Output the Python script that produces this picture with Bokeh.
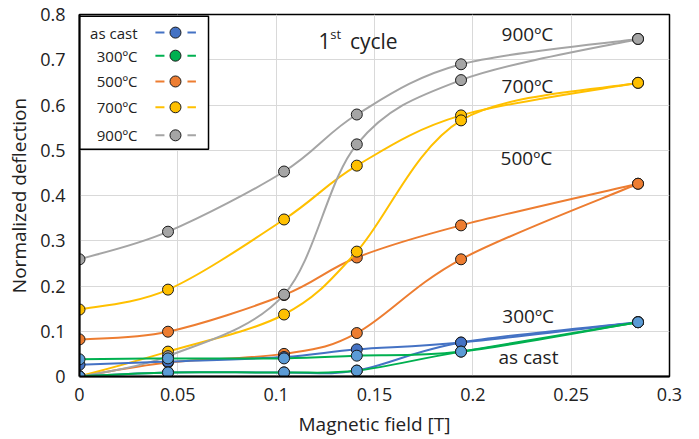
import numpy as np
from bokeh.plotting import figure
from bokeh.models import Range1d, FixedTicker, Label
from bokeh.embed import file_html
from bokeh.resources import INLINE

# ---------------- data ----------------
field = [0.0, 0.045, 0.104, 0.141, 0.194, 0.284]

x_ticks = [0.0, 0.05, 0.1, 0.15, 0.2, 0.25, 0.3]
x_tick_labels = ["0", "0.05", "0.1", "0.15", "0.2", "0.25", "0.3"]
y_ticks = [0.0, 0.1, 0.2, 0.3, 0.4, 0.5, 0.6, 0.7, 0.8]
y_tick_labels = ["0", "0.1", "0.2", "0.3", "0.4", "0.5", "0.6", "0.7", "0.8"]

series_names = ["as cast", "300ºC", "500ºC", "700ºC", "900ºC"]

ascast_a = [0.026, 0.033, 0.043, 0.060, 0.075, 0.120]
ascast_b = [0.000, 0.009, 0.009, 0.013, 0.075, 0.120]
t300_a = [0.038, 0.040, 0.040, 0.046, 0.055, 0.120]
t300_b = [0.000, 0.009, 0.009, 0.013, 0.055, 0.120]
t500_a = [0.082, 0.099, 0.180, 0.263, 0.334, 0.426]
t500_b = [0.000, 0.031, 0.050, 0.096, 0.259, 0.426]
t700_a = [0.148, 0.192, 0.347, 0.466, 0.577, 0.649]
t700_b = [0.000, 0.055, 0.137, 0.276, 0.566, 0.649]
t900_a = [0.259, 0.320, 0.453, 0.579, 0.690, 0.746]
t900_b = [0.000, 0.045, 0.181, 0.513, 0.655, 0.746]

annotation_texts = ["900ºC", "700ºC", "500ºC", "300ºC", "as cast"]

# ---------------- styles ----------------
FONT = "Open Sans"
TXT = "#222222"
line_colors = {"as cast": "#4472C4", "300ºC": "#00B050", "500ºC": "#ED7D31",
               "700ºC": "#FFC000", "900ºC": "#A5A5A5"}
marker_colors = {"as cast": "#4472C4", "300ºC": "#5B9BD5", "500ºC": "#ED7D31",
                 "700ºC": "#FFC000", "900ºC": "#A5A5A5"}
legend_marker_colors = {"as cast": "#4472C4", "300ºC": "#00B050", "500ºC": "#ED7D31",
                        "700ºC": "#FFC000", "900ºC": "#A5A5A5"}
branches = {"as cast": (ascast_a, ascast_b), "300ºC": (t300_a, t300_b),
            "500ºC": (t500_a, t500_b), "700ºC": (t700_a, t700_b),
            "900ºC": (t900_a, t900_b)}


def smooth_segments(xs, ys):
    """Catmull-Rom style Bezier control points (Excel-like smoothing)."""
    P = np.column_stack([xs, ys]).astype(float)
    E = np.vstack([P[0], P, P[-1]])
    out = {k: [] for k in ["x0", "y0", "x1", "y1", "cx0", "cy0", "cx1", "cy1"]}
    for i in range(len(P) - 1):
        p0, p1, p2, p3 = E[i], E[i + 1], E[i + 2], E[i + 3]
        c1 = p1 + (p2 - p0) / 6.0
        c2 = p2 - (p3 - p1) / 6.0
        out["x0"].append(p1[0]); out["y0"].append(p1[1])
        out["x1"].append(p2[0]); out["y1"].append(p2[1])
        out["cx0"].append(c1[0]); out["cy0"].append(c1[1])
        out["cx1"].append(c2[0]); out["cy1"].append(c2[1])
    return out


p = figure(width=699, height=439, x_range=Range1d(0, 0.3), y_range=Range1d(0, 0.8),
           output_backend="svg", toolbar_location=None,
           min_border_left=79, min_border_right=30, min_border_top=14, min_border_bottom=63)
p.background_fill_color = "white"
p.border_fill_color = "white"
p.outline_line_color = "black"
p.outline_line_width = 1.5

p.xaxis.ticker = FixedTicker(ticks=x_ticks)
p.yaxis.ticker = FixedTicker(ticks=y_ticks)
p.xaxis.major_label_overrides = dict(zip(x_ticks, x_tick_labels))
p.yaxis.major_label_overrides = dict(zip(y_ticks, y_tick_labels))
p.xgrid.ticker = FixedTicker(ticks=x_ticks)
p.ygrid.ticker = FixedTicker(ticks=y_ticks)
for g in (p.xgrid, p.ygrid):
    g.grid_line_color = "#D9D9D9"
    g.grid_line_width = 1
for ax in (p.xaxis, p.yaxis):
    ax.major_tick_line_color = None
    ax.minor_tick_line_color = None
    ax.major_tick_out = 0
    ax.major_tick_in = 0
    ax.axis_line_color = "black"
    ax.axis_line_width = 2
    ax.major_label_text_font = FONT
    ax.major_label_text_font_size = "18px"
    ax.major_label_text_color = TXT
    ax.axis_label_text_font = FONT
    ax.axis_label_text_font_size = "19px"
    ax.axis_label_text_font_style = "normal"
    ax.axis_label_text_color = TXT
p.xaxis.axis_label = "Magnetic field [T]"
p.yaxis.axis_label = "Normalized deflection"
p.xaxis.major_label_standoff = 11
p.yaxis.major_label_standoff = 14
p.xaxis.axis_label_standoff = 7
p.yaxis.axis_label_standoff = 5

# draw order: 500, 700, 900, as cast, 300
for name in ["500ºC", "700ºC", "900ºC", "as cast", "300ºC"]:
    for br in branches[name]:
        s = smooth_segments(field, br)
        p.bezier(x0=s["x0"], y0=s["y0"], x1=s["x1"], y1=s["y1"],
                 cx0=s["cx0"], cy0=s["cy0"], cx1=s["cx1"], cy1=s["cy1"],
                 line_color=line_colors[name], line_width=2)
    for br in branches[name]:
        p.scatter(field, br, size=11, fill_color=marker_colors[name],
                  line_color="#1a1a1a", line_width=1)

# ---------------- legend (drawn manually, label left / symbol right) ----------------
p.quad(left=[0.0], right=[0.0656], bottom=[0.502], top=[0.796],
       fill_color="white", line_color="black", line_width=1.5)
leg_rows = [0.760, 0.709, 0.652, 0.595, 0.533]
for name, yy in zip(series_names, leg_rows):
    p.add_layout(Label(x=0.0295, y=yy, text=name, text_align="right",
                       text_baseline="middle", text_font=FONT,
                       text_font_size="15px", text_color=TXT))
    p.segment(x0=[0.0386, 0.0549], x1=[0.0432, 0.0592], y0=[yy, yy], y1=[yy, yy],
              line_color=line_colors[name], line_width=2)
    p.scatter([0.0488], [yy], size=11, fill_color=legend_marker_colors[name],
              line_color="#1a1a1a", line_width=1)

# ---------------- annotations ----------------
ann_pos = [(0.2146, 0.756), (0.2146, 0.643), (0.2141, 0.482), (0.2150, 0.133), (0.2130, 0.044)]
for t, (ax_, ay_) in zip(annotation_texts, ann_pos):
    p.add_layout(Label(x=ax_, y=ay_, text=t, text_align="left", text_baseline="alphabetic",
                       text_font=FONT, text_font_size="19px", text_color=TXT))

p.add_layout(Label(x=0.1215, y=0.7425, text="1", text_align="left", text_baseline="alphabetic",
                   text_font=FONT, text_font_size="21px", text_color=TXT))
p.add_layout(Label(x=0.1275, y=0.7580, text="st", text_align="left", text_baseline="alphabetic",
                   text_font=FONT, text_font_size="13px", text_color=TXT))
p.add_layout(Label(x=0.1375, y=0.7425, text="cycle", text_align="left", text_baseline="alphabetic",
                   text_font=FONT, text_font_size="21px", text_color=TXT))

open("out.html", "w").write(file_html(p, INLINE))
